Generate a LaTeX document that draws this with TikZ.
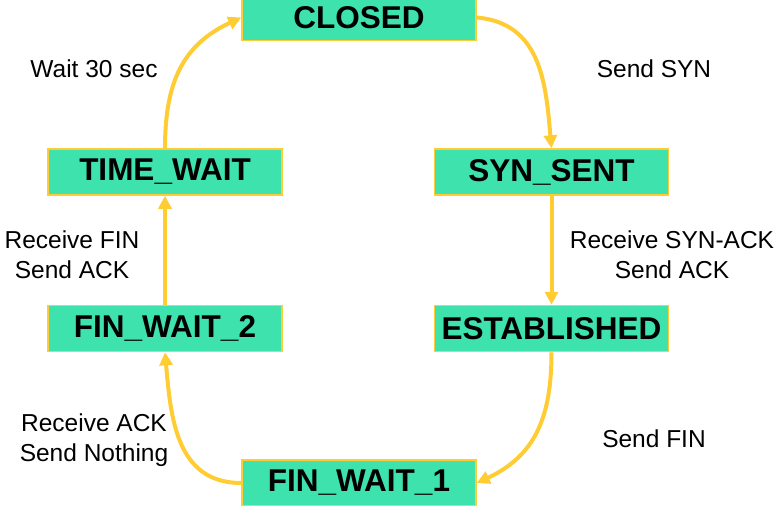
\documentclass[tikz,border=0pt]{standalone}
\usepackage{fontspec}
\setmainfont{Liberation Sans}
\usetikzlibrary{arrows.meta}
\definecolor{boxgreen}{HTML}{3DE2AD}
\definecolor{arrowyellow}{HTML}{FFCC33}
\begin{document}
\begin{tikzpicture}[x=1pt,y=-1pt,
  state/.style={draw=arrowyellow, line width=1.5pt, fill=boxgreen,
    minimum width=234pt, minimum height=46pt, inner sep=0pt,
    font=\fontsize{31.5}{34}\selectfont\bfseries, text=black},
  lbl/.style={align=center, font=\fontsize{24.5}{30}\selectfont, text=black, inner sep=0pt},
  trans/.style={draw=arrowyellow, line width=4pt, -{Triangle[length=13pt,width=13pt]}}]
\useasboundingbox (0,0) rectangle (780,506);
\node[state] (closed) at (359,17.5) {CLOSED};
\node[state] (synsent) at (551.5,172) {SYN\_SENT};
\node[state] (est) at (551.5,328.5) {ESTABLISHED};
\node[state] (fw1) at (359,483) {FIN\_WAIT\_1};
\node[state] (fw2) at (165,328.5) {FIN\_WAIT\_2};
\node[state] (tw) at (165,172) {TIME\_WAIT};

\draw[trans] (tw.north) to[out=90, in=205, looseness=1.1] (closed.west);
\draw[trans] (closed.east) to[out=-5, in=95, looseness=1.1] (synsent.north);
\draw[trans] (synsent.south) -- (est.north);
\draw[trans] (est.south) to[out=-90, in=25, looseness=1.1] (fw1.east);
\draw[trans] (fw1.west) to[out=180, in=-85, looseness=1.1] (fw2.south);
\draw[trans] (fw2.north) -- (tw.south);

\node[lbl] (l1) at (94,69) {Wait 30 sec};
\node[lbl] (l2) at (654,69) {Send SYN};
\node[lbl] (l3) at (672,255) {Receive SYN-ACK\\Send ACK};
\node[lbl] (l4) at (72,255) {Receive FIN\\Send ACK};
\node[lbl] (l5) at (94,440) {Receive ACK\\Send Nothing};
\node[lbl] (l6) at (654,439) {Send FIN};
\end{tikzpicture}
\end{document}
